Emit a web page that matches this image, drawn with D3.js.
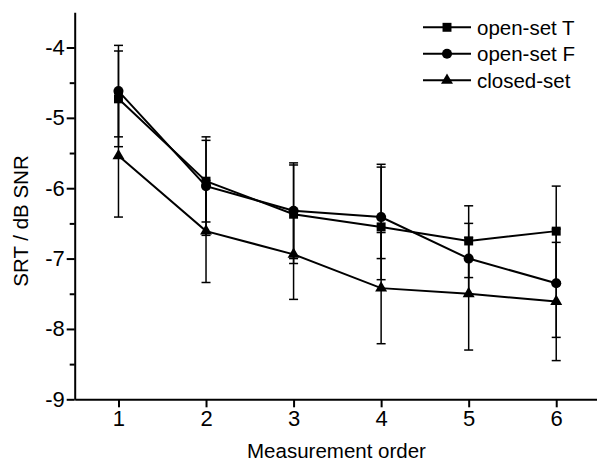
<!DOCTYPE html>
<html>
<head>
<meta charset="utf-8">
<script src="https://cdn.jsdelivr.net/npm/d3@7"></script>
<style>
  body { margin: 0; background: #fff; }
  svg { display: block; }
  text { font-family: "Liberation Sans", Arial, sans-serif; fill: #000; }
</style>
</head>
<body>
<svg id="chart" width="597" height="463"></svg>
<script>
// measurement order (x)
var order = [1, 2, 3, 4, 5, 6];

// mean SRT per series
var openT     = [-4.73, -5.90, -6.37, -6.55, -6.75, -6.61];
var openF     = [-4.62, -5.97, -6.32, -6.41, -7.00, -7.35];
var closedSet = [-5.54, -6.61, -6.94, -7.42, -7.50, -7.61];

// error bar ends (upper / lower)
var openT_hi  = [-4.05, -5.32, -5.67, -5.70, -6.25, -5.97];
var openT_lo  = [-5.41, -6.48, -7.07, -7.30, -7.27, -7.33];
var openF_hi  = [-3.97, -5.27, -5.64, -5.66, -6.50, -6.58];
var openF_lo  = [-5.27, -6.67, -7.00, -7.00, -7.50, -8.12];
var closed_hi = [-4.65, -5.89, -6.30, -6.63, -6.70, -6.77];
var closed_lo = [-6.41, -7.34, -7.58, -8.21, -8.30, -8.45];

var yMajor = [-9, -8, -7, -6, -5, -4];
var yMinor = [-8.5, -7.5, -6.5, -5.5, -4.5];

var seriesNames = ['open-set T', 'open-set F', 'closed-set'];

var series = [
  { name: seriesNames[0], y: openT,     hi: openT_hi,  lo: openT_lo,  sym: d3.symbolSquare,   size: 80 },
  { name: seriesNames[1], y: openF,     hi: openF_hi,  lo: openF_lo,  sym: d3.symbolCircle,   size: 80 },
  { name: seriesNames[2], y: closedSet, hi: closed_hi, lo: closed_lo, sym: d3.symbolTriangle, size: 62 }
];

var svg = d3.select('#chart');

var x = d3.scaleLinear().domain([0.5, 6.5]).range([74.7, 600]);
var y = d3.scaleLinear().domain([-9, -3.5]).range([399.3, 12.3]);

// y axis
var yAxis = svg.append('g').attr('transform', 'translate(74.7,0)')
  .call(d3.axisLeft(y).tickValues(yMajor).tickSize(8).tickSizeOuter(0).tickPadding(2)
    .tickFormat(function (d) { return d; }));
yAxis.selectAll('text').style('font-size', '22px');
var yMin = svg.append('g').attr('transform', 'translate(74.7,0)')
  .call(d3.axisLeft(y).tickValues(yMinor).tickSize(5).tickFormat(''));
yMin.select('.domain').remove();

// x axis
var xAxis = svg.append('g').attr('transform', 'translate(0,399.3)')
  .call(d3.axisBottom(x).tickValues(order).tickSize(8).tickSizeOuter(0).tickPadding(3)
    .tickFormat(d3.format('d')));
xAxis.selectAll('text').style('font-size', '22px');

svg.selectAll('.domain, .tick line').attr('stroke', '#000').attr('stroke-width', 2);

// axis titles
svg.append('text')
  .attr('x', 336.5).attr('y', 458)
  .attr('text-anchor', 'middle')
  .style('font-size', '20.5px')
  .text('Measurement order');

svg.append('text')
  .attr('transform', 'translate(28,221) rotate(-90)')
  .attr('text-anchor', 'middle')
  .style('font-size', '20.5px')
  .text('SRT / dB SNR');

var line = d3.line()
  .x(function (d, i) { return x(order[i]); })
  .y(function (d) { return y(d); });

series.forEach(function (s) {
  var g = svg.append('g');
  // error bars
  order.forEach(function (o, i) {
    var cx = x(o);
    g.append('line').attr('x1', cx).attr('x2', cx)
      .attr('y1', y(s.hi[i])).attr('y2', y(s.lo[i]))
      .attr('stroke', '#000').attr('stroke-width', 1.5);
    [s.hi[i], s.lo[i]].forEach(function (v) {
      g.append('line').attr('x1', cx - 4.5).attr('x2', cx + 4.5)
        .attr('y1', y(v)).attr('y2', y(v))
        .attr('stroke', '#000').attr('stroke-width', 1.5);
    });
  });
  g.append('path').datum(s.y)
    .attr('d', line)
    .attr('fill', 'none')
    .attr('stroke', '#000')
    .attr('stroke-width', 2);
  g.selectAll('path.pt').data(s.y).join('path')
    .attr('class', 'pt')
    .attr('transform', function (d, i) { return 'translate(' + x(order[i]) + ',' + y(d) + ')'; })
    .attr('d', d3.symbol().type(s.sym).size(s.size))
    .attr('fill', '#000');
});

// legend
var legY = [27.3, 53.8, 80.3];
series.forEach(function (s, i) {
  var lg = svg.append('g').attr('transform', 'translate(0,' + legY[i] + ')');
  lg.append('line').attr('x1', 423).attr('x2', 471).attr('y1', 0).attr('y2', 0)
    .attr('stroke', '#000').attr('stroke-width', 2);
  lg.append('path').attr('transform', 'translate(447,0)')
    .attr('d', d3.symbol().type(s.sym).size(s.size)).attr('fill', '#000');
  lg.append('text').attr('x', 477).attr('y', 0).attr('dy', '0.36em')
    .style('font-size', '20.5px').text(s.name);
});
</script>
</body>
</html>
